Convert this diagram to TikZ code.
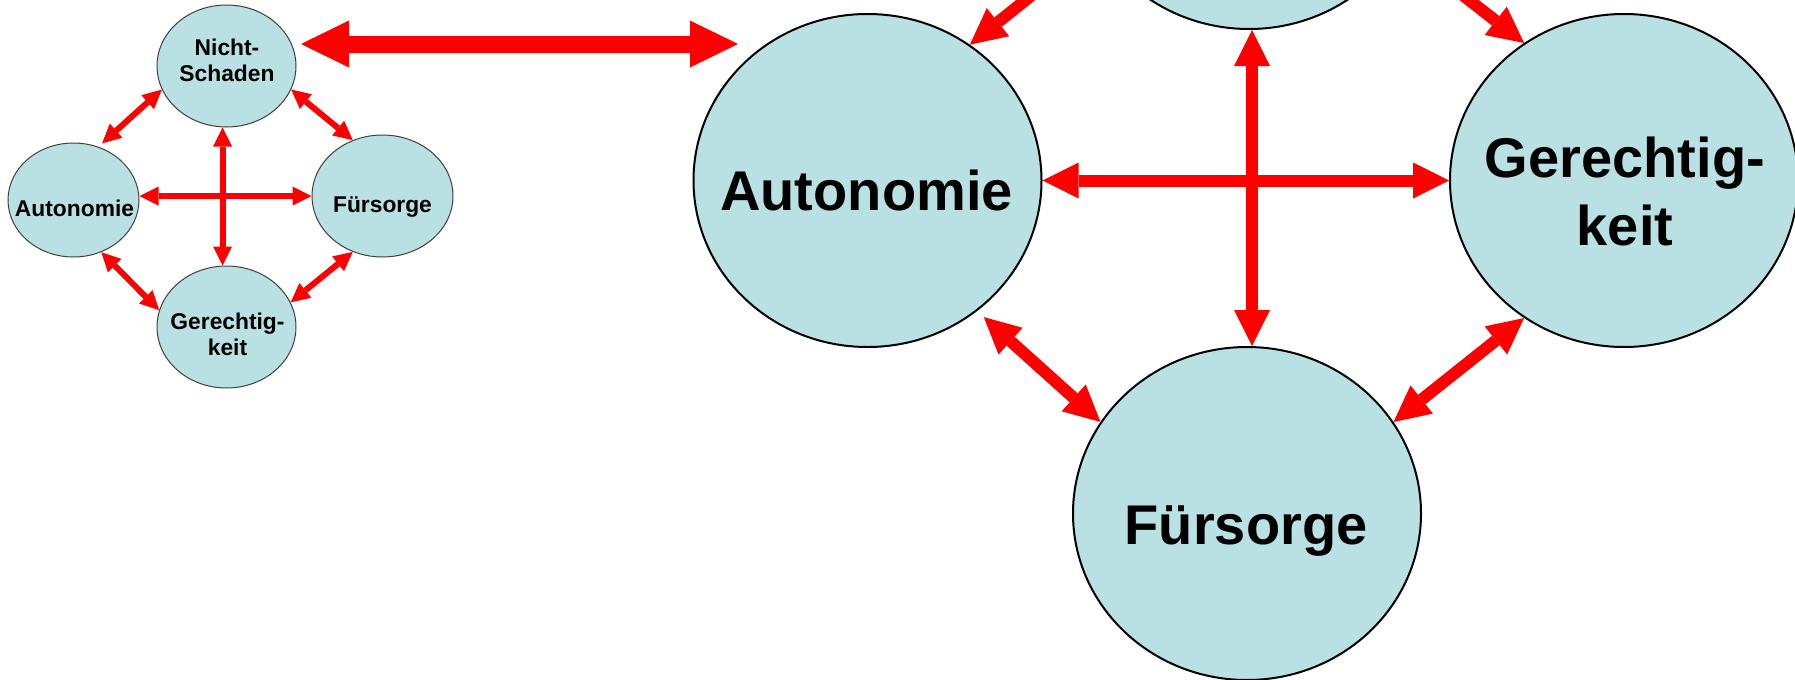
\documentclass[tikz,border=0pt]{standalone}
\usepackage{fontspec}
\setmainfont{Liberation Sans}
\usetikzlibrary{shapes.geometric,arrows.meta}
\definecolor{ellfill}{RGB}{185,224,227}
\definecolor{arrred}{RGB}{255,0,0}
\tikzset{
  bigell/.style={ellipse, draw=black, line width=1pt, fill=ellfill, inner sep=0pt,
    minimum width=174pt, minimum height=166.5pt},
  smallell/.style={ellipse, draw=black!75, line width=0.5pt, fill=ellfill, inner sep=0pt},
  bigtxt/.style={font=\fontsize{28pt}{34pt}\selectfont\bfseries, align=center, inner sep=0pt},
  smalltxt/.style={font=\fontsize{11.4pt}{13pt}\selectfont\bfseries, align=center, inner sep=0pt},
  bigarr/.style={draw=arrred, line width=6pt,
    {Triangle[length=18pt,width=18pt,line width=0pt]}-{Triangle[length=18pt,width=18pt,line width=0pt]}},
  smallarr/.style={draw=arrred, line width=3pt,
    {Triangle[length=9.5pt,width=9.5pt,line width=0pt]}-{Triangle[length=9.5pt,width=9.5pt,line width=0pt]}},
  zoomarr/.style={draw=arrred, line width=8.5pt,
    {Triangle[length=24pt,width=23.5pt,line width=0pt]}-{Triangle[length=24pt,width=23.5pt,line width=0pt]}},
}
\begin{document}
\begin{tikzpicture}[x=0.5pt,y=-0.5pt]
\useasboundingbox (0,0) rectangle (1795,680);
% small diagram
\node[smallell, minimum width=69.5pt, minimum height=61pt] (nsS) at (226.5,66) {};
\node[smallell, minimum width=65.5pt, minimum height=57pt] (autS) at (73.5,200) {};
\node[smallell, minimum width=70.5pt, minimum height=61pt] (fuS) at (382.5,196) {};
\node[smallell, minimum width=69.5pt, minimum height=61pt] (geS) at (226.5,327) {};
\node[smalltxt] (nsSt) at (227,60.5) {Nicht-\\Schaden};
\node[smalltxt, anchor=base] (autSt) at (74.5,216) {Autonomie};
\node[smalltxt, anchor=base] (fuSt) at (382.5,212) {Fürsorge};
\node[smalltxt] (geSt) at (227.5,334) {Gerechtig-\\keit};
\draw[smallarr] ([yshift=2pt]autS.east) -- (fuS.west);
\draw[smallarr] ([xshift=-2pt]nsS.south) -- ([xshift=-2pt]geS.north);
\draw[smallarr, shorten <=2.5pt] (autS.65.4) -- (nsS.200.2);
\draw[smallarr] (nsS.-20.2) -- (fuS.118.6);
\draw[smallarr] (autS.-62.5) -- (geS.166.3);
\draw[smallarr] (fuS.-118.6) -- (geS.21.5);
% big diagram
\node[bigell] (nsB) at (1249,-137.5) {};
\node[bigell] (autB) at (867.5,180.5) {};
\node[bigell] (geB) at (1624,180.5) {};
\node[bigell] (fuB) at (1247,513.5) {};
\node[bigtxt, anchor=base] (autBt) at (866.5,210) {Autonomie};
\node[bigtxt, anchor=base] (fuBt) at (1246,544) {Fürsorge};
\node[bigtxt] (geBt) at (1625,191) {Gerechtig-\\keit};
\draw[bigarr] (autB.east) -- (geB.west);
\draw[bigarr] ([xshift=1.5pt]nsB.south) -- ([xshift=2.5pt]fuB.north);
\draw[bigarr, shorten <=4.5pt] (autB.-50) -- (fuB.148);
\draw[bigarr] (fuB.32.6) -- (geB.-126.2);
\draw[bigarr] (autB.53.9) -- (nsB.-152.2);
\draw[bigarr] (geB.126) -- (nsB.-29.9);
% zoom arrow
\coordinate (zl) at (301,44);
\coordinate (zr) at (738,44);
\draw[zoomarr] (zl) -- (zr);
\end{tikzpicture}
\end{document}
